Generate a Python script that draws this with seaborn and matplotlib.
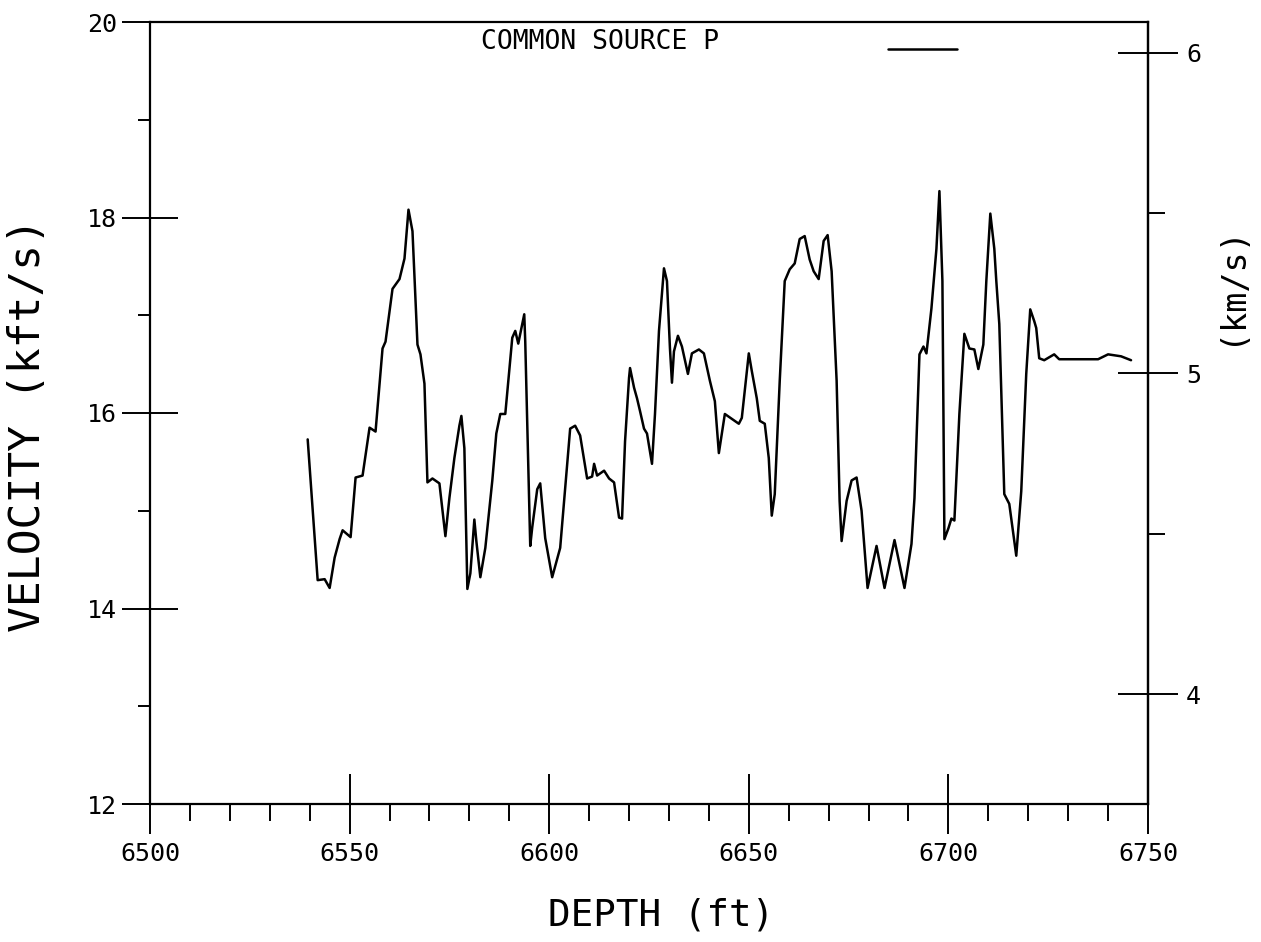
import matplotlib
matplotlib.use("Agg")
import matplotlib.pyplot as plt
from matplotlib.ticker import FixedLocator, MultipleLocator
import seaborn as sns
import numpy as np

# ---- data ----
depth_ft = [
    6539.5, 6542.0, 6543.75, 6545.0, 6546.25, 6547.5, 6548.25, 6550.25, 6551.5, 6553.25,
    6555.0, 6556.5, 6558.25, 6559.0, 6560.75, 6562.5, 6563.75, 6564.75, 6565.75, 6567.0,
    6567.75, 6568.75, 6569.5, 6570.75, 6572.5, 6574.0, 6575.0, 6576.25, 6577.5, 6578.0,
    6578.75, 6579.5, 6580.25, 6581.25, 6581.75, 6582.75, 6584.0, 6585.75, 6586.75, 6587.75,
    6589.0, 6590.75, 6591.5, 6592.25, 6593.75, 6594.0, 6595.25, 6595.75, 6597.0, 6597.75,
    6599.0, 6600.75, 6602.75, 6605.25, 6606.5, 6607.75, 6609.5, 6610.75, 6611.25, 6612.0,
    6613.75, 6615.0, 6616.25, 6617.5, 6618.25, 6619.0, 6620.0, 6620.25, 6621.25, 6622.0,
    6622.75, 6623.75, 6624.5, 6625.75, 6626.5, 6627.5, 6628.75, 6629.5, 6630.25, 6630.75,
    6631.25, 6632.25, 6633.25, 6634.75, 6635.75, 6637.5, 6638.75, 6640.25, 6641.5, 6642.5,
    6644.0, 6645.75, 6647.5, 6648.25, 6650.0, 6650.75, 6652.0, 6652.75, 6654.0, 6655.0,
    6655.75, 6656.5, 6657.75, 6659.0, 6660.25, 6661.5, 6662.75, 6664.0, 6665.25, 6666.25,
    6667.5, 6668.75, 6669.75, 6670.75, 6672.0, 6672.75, 6673.25, 6674.5, 6675.75, 6677.0,
    6678.25, 6679.75, 6682.0, 6684.0, 6686.5, 6689.0, 6690.75, 6691.5, 6692.75, 6693.75,
    6694.5, 6695.75, 6697.0, 6697.75, 6698.5, 6699.0, 6700.0, 6700.75, 6701.5, 6702.75,
    6704.0, 6705.25, 6706.5, 6707.5, 6708.75, 6709.5, 6710.5, 6711.5, 6712.0, 6712.75,
    6714.0, 6715.25, 6717.0, 6718.25, 6719.5, 6720.5, 6721.5, 6722.0, 6722.75, 6724.0,
    6726.5, 6727.75, 6737.5, 6740.0, 6743.25, 6745.75,
]
velocity_kfts = [
    15.73, 14.29, 14.30, 14.21, 14.52, 14.71, 14.80, 14.73, 15.34, 15.36,
    15.85, 15.81, 16.66, 16.73, 17.27, 17.37, 17.58, 18.08, 17.86, 16.70,
    16.60, 16.30, 15.29, 15.33, 15.28, 14.74, 15.13, 15.54, 15.87, 15.97,
    15.64, 14.20, 14.36, 14.91, 14.69, 14.32, 14.62, 15.31, 15.79, 15.99,
    15.99, 16.77, 16.84, 16.71, 17.01, 16.73, 14.64, 14.83, 15.22, 15.28,
    14.72, 14.32, 14.62, 15.84, 15.87, 15.77, 15.33, 15.35, 15.48, 15.36,
    15.41, 15.33, 15.29, 14.93, 14.92, 15.71, 16.36, 16.46, 16.26, 16.15,
    16.02, 15.84, 15.79, 15.48, 15.99, 16.84, 17.48, 17.35, 16.66, 16.31,
    16.63, 16.79, 16.68, 16.40, 16.61, 16.65, 16.61, 16.33, 16.12, 15.59,
    15.99, 15.94, 15.89, 15.95, 16.61, 16.43, 16.15, 15.92, 15.89, 15.54,
    14.95, 15.17, 16.33, 17.35, 17.47, 17.53, 17.78, 17.81, 17.57, 17.45,
    17.37, 17.76, 17.82, 17.45, 16.33, 15.10, 14.69, 15.10, 15.31, 15.34,
    15.00, 14.21, 14.64, 14.21, 14.70, 14.21, 14.66, 15.13, 16.60, 16.68,
    16.61, 17.07, 17.68, 18.27, 17.35, 14.71, 14.82, 14.92, 14.90, 15.99,
    16.81, 16.66, 16.65, 16.45, 16.70, 17.35, 18.04, 17.68, 17.35, 16.91,
    15.17, 15.07, 14.54, 15.20, 16.40, 17.06, 16.94, 16.87, 16.56, 16.54,
    16.60, 16.55, 16.55, 16.60, 16.58, 16.54,
]
x_major_ticks = [6500, 6550, 6600, 6650, 6700, 6750]
y_major_ticks = [12, 14, 16, 18, 20]
kms_major_ticks = [4, 5, 6]
kms_minor_ticks = [4.5, 5.5]
title_text = "COMMON SOURCE P"
x_label = "DEPTH (ft)"
y_label = "VELOCITY (kft/s)"
y2_label = "(km/s)"

# ---- styling ----
sns.set_style("ticks")
plt.rcParams["font.family"] = ["DejaVu Sans Mono", "DejaVu Sans"]
plt.rcParams["axes.linewidth"] = 1.6
plt.rcParams["axes.edgecolor"] = "black"
plt.rcParams["text.color"] = "black"
plt.rcParams["axes.labelcolor"] = "black"
plt.rcParams["xtick.color"] = "black"
plt.rcParams["ytick.color"] = "black"

W, H = 1261, 942
fig = plt.figure(figsize=(W / 100, H / 100), dpi=100)
fig.patch.set_facecolor("white")
ax = fig.add_axes([150 / W, 1 - 804 / H, 998 / W, 782 / H])
ax.set_facecolor("white")

sns.lineplot(x=depth_ft, y=velocity_kfts, ax=ax, color="black",
             linewidth=1.8, estimator=None, sort=False)

ax.set_xlim(6500, 6750)
ax.set_ylim(12, 20)
ax.set_xticks(x_major_ticks)
ax.set_yticks(y_major_ticks)
ax.xaxis.set_minor_locator(MultipleLocator(10))
ax.yaxis.set_minor_locator(MultipleLocator(1))
for s in ax.spines.values():
    s.set_visible(True)
    s.set_linewidth(1.6)
    s.set_color("black")

ax.tick_params(axis="x", which="major", direction="inout", length=43, width=1.4,
               pad=6, labelsize=18, colors="black", top=False)
ax.tick_params(axis="x", which="minor", direction="out", length=12, width=1.4, top=False)
ax.tick_params(axis="y", which="major", direction="inout", length=40, width=1.4,
               pad=4, labelsize=18, colors="black", right=False)
ax.tick_params(axis="y", which="minor", direction="out", length=9, width=1.4, right=False)

sec = ax.secondary_yaxis("right", functions=(lambda v: v * 0.3048, lambda k: k / 0.3048))
sec.set_yticks(kms_major_ticks)
sec.set_yticklabels([str(t) for t in kms_major_ticks])
sec.yaxis.set_minor_locator(FixedLocator(kms_minor_ticks))
sec.tick_params(axis="y", which="major", direction="inout", length=43, width=1.4,
                pad=6, labelsize=18, colors="black")
sec.tick_params(axis="y", which="minor", direction="out", length=12, width=1.4)
sec.spines["right"].set_linewidth(1.6)

ax.set_xlabel(x_label, fontsize=27)
ax.xaxis.set_label_coords(0.512, -0.143)
ax.xaxis.label.set_va("center")
ax.set_ylabel(y_label, fontsize=31)
ax.yaxis.set_label_coords(-0.122, 0.485)
ax.yaxis.label.set_va("center")

# right-hand axis title (placed in parent axes coordinates)
ax.text(1.083, 0.664, y2_label, transform=ax.transAxes, rotation=90,
        ha="center", va="center", fontsize=24, color="black")

ax.text(0.451, 0.974, title_text, transform=ax.transAxes, ha="center", va="center",
        fontsize=19, color="black")

leg = ax.legend(handles=[ax.lines[0]], labels=[""], loc="center left",
                bbox_to_anchor=((888 - 150) / 998, (804 - 51) / 782),
                frameon=False, borderpad=0, borderaxespad=0, handlelength=2.76,
                handletextpad=0, fontsize=18)

fig.savefig("out.png", dpi=100, facecolor="white")
